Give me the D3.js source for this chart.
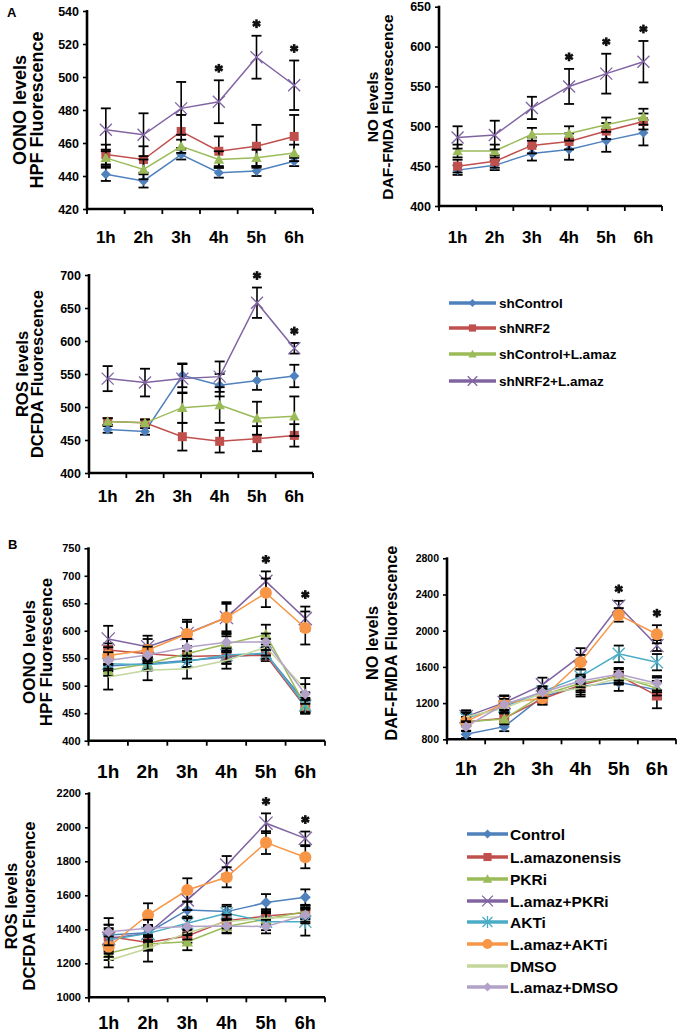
<!DOCTYPE html>
<html><head><meta charset="utf-8">
<script src="https://cdnjs.cloudflare.com/ajax/libs/d3/7.8.5/d3.min.js"></script>
<style>
body{margin:0;background:#fff;}
svg{display:block;font-family:"Liberation Sans",Arial,sans-serif;font-weight:bold;}
</style></head>
<body>
<svg id="chart" width="679" height="1032"></svg>
<script>
// ---------- DATA ----------
const hours = ["1h","2h","3h","4h","5h","6h"];

const namesA = ["shControl","shNRF2","shControl+L.amaz","shNRF2+L.amaz"];
const colorsA = ["#4F81BD","#C0504D","#9BBB59","#8064A2"];
const markersA = ["diamond","square","triangle","x"];

const oonoA = [[441,437,453,442,443,449],[453,450,467,455,458,464],[451,444,458,450,451,454],[468,465,481,485,512,495]];
const oonoAErr = [[4,4,3,3,3,3],[6,8,10,9,13,13],[5,6,4,5,5,5],[13,13,16,13,13,15]];
const noA = [[445,451,466,471,482,492],[450,456,476,481,494,506],[469,469,490,491,502,512],[486,489,523,550,566,581]];
const noAErr = [[6,6,9,13,14,16],[8,8,10,10,10,10],[8,8,8,9,9,10],[14,18,14,22,25,26]];
const rosA = [[466,463,548,533,540,547],[478,476,455,448,452,457],[478,476,499,503,483,486],[543,537,543,546,658,589]];
const rosAErr = [[5,5,18,17,14,17],[5,5,21,17,19,17],[5,5,23,27,25,30],[19,21,22,23,23,8]];

const namesB = ["Control","L.amazonensis","PKRi","L.amaz+PKRi","AKTi","L.amaz+AKTi","DMSO","L.amaz+DMSO"];
const colorsB = ["#4F81BD","#C0504D","#9BBB59","#8064A2","#4BACC6","#F79646","#C3D69B","#B3A2C7"];
const markersB = ["diamond","square","triangle","x","star","circle","none","diamond"];

const oonoB = [[536,540,546,552,558,470],[565,558,553,555,555,461],[528,540,558,576,593,464],[585,571,595,624,690,622],
               [540,538,544,556,559,464],[555,565,594,624,669,605],[516,528,531,546,570,494],[546,556,570,579,580,485]];
const oonoBErr = [[10,10,12,12,12,18],[12,15,10,15,10,12],[10,12,12,14,18,12],[24,20,25,28,18,22],
                  [12,10,10,12,10,14],[15,20,22,25,26,30],[23,18,18,15,15,20],[15,15,15,15,15,18]];
const noB = [[855,940,1272,1383,1430,1346],[995,1032,1246,1401,1504,1283],[995,1025,1290,1419,1493,1364],[1051,1205,1401,1722,2270,1836],
             [1032,1161,1327,1493,1744,1652],[995,1198,1253,1652,2175,1961],[1050,1143,1309,1364,1475,1401],[940,1187,1320,1445,1519,1419]];
const noBErr = [[40,50,60,110,95,100],[50,60,60,80,80,140],[50,60,60,80,80,80],[70,80,80,85,60,60],
                [50,60,60,80,92,90],[50,80,70,80,75,100],[50,50,50,70,70,80],[50,60,60,70,70,80]];
const rosB = [[1367,1380,1514,1504,1557,1588],[1357,1322,1361,1451,1478,1498],[1259,1314,1327,1416,1460,1504],[1347,1376,1573,1778,2024,1935],
              [1337,1376,1435,1494,1445,1445],[1298,1484,1631,1706,1910,1824],[1216,1288,1380,1445,1465,1475],[1386,1406,1416,1420,1416,1484]];
const rosBErr = [[60,40,50,40,50,47],[50,40,40,40,40,40],[40,40,50,40,40,40],[80,50,60,53,58,40],
                 [60,40,40,40,50,82],[60,69,69,59,67,65],[40,78,40,40,40,40],[80,50,50,40,40,40]];

const ticksOonoA = [420,440,460,480,500,520,540];
const ticksNoA = [400,450,500,550,600,650];
const ticksRosA = [400,450,500,550,600,650,700];
const ticksOonoB = [400,450,500,550,600,650,700,750];
const ticksNoB = [800,1200,1600,2000,2400,2800];
const ticksRosB = [1000,1200,1400,1600,1800,2000,2200];

const starsA1 = ["4h","5h","6h"], starsA2 = ["4h","5h","6h"], starsA3 = ["5h","6h"], starsB = ["5h","6h"];

// ---------- DRAWING ----------
const svg = d3.select("#chart");

function drawMarker(g, type, color, s){
  if(type==="diamond"){
    g.append("path").attr("d",`M0,${-s}L${s},0L0,${s}L${-s},0Z`).attr("fill",color);
  } else if(type==="square"){
    g.append("rect").attr("x",-s*0.9).attr("y",-s*0.9).attr("width",s*1.8).attr("height",s*1.8).attr("fill",color);
  } else if(type==="triangle"){
    g.append("path").attr("d",`M0,${-s*1.05}L${s*1.05},${s*0.85}L${-s*1.05},${s*0.85}Z`).attr("fill",color);
  } else if(type==="x"){
    const r=s*1.2;
    g.append("path").attr("d",`M${-r},${-r}L${r},${r}M${-r},${r}L${r},${-r}`).attr("stroke",color).attr("stroke-width",1.3).attr("fill","none");
  } else if(type==="star"){
    const r=s*1.1;
    g.append("path").attr("d",`M${-r},${-r}L${r},${r}M${-r},${r}L${r},${-r}M0,${-r*1.2}L0,${r*1.2}`).attr("stroke",color).attr("stroke-width",1.3).attr("fill","none");
  } else if(type==="circle"){
    g.append("circle").attr("r",s*1.1).attr("fill",color);
  }
}

function drawStar(x,y){
  const g = svg.append("g").attr("transform",`translate(${x},${y})`);
  const r=4.4;
  for(let a=0;a<3;a++){
    const ang = a*Math.PI/3 + Math.PI/2;
    g.append("line").attr("x1",-r*Math.cos(ang)).attr("y1",-r*Math.sin(ang))
      .attr("x2",r*Math.cos(ang)).attr("y2",r*Math.sin(ang))
      .attr("stroke","#111").attr("stroke-width",2.6);
  }
}

function panel(c){
  const x = d3.scaleBand().domain(hours).range([c.x0,c.x1]);
  const y = d3.scaleLinear().domain([c.ticks[0],c.ticks[c.ticks.length-1]]).range([c.yb,c.yt]);
  const g = svg.append("g");
  // y axis
  const yAxis = d3.axisLeft(y).tickValues(c.ticks).tickSize(4).tickPadding(4).tickFormat(d3.format("d"));
  const ya = g.append("g").attr("transform",`translate(${c.x0},0)`).call(yAxis);
  ya.select(".domain").remove();
  ya.selectAll("line").attr("stroke","#000").attr("stroke-width",1.6);
  ya.selectAll("text").attr("font-size",c.tickFont).attr("font-weight","bold").attr("fill","#000").attr("font-family",'"Liberation Sans",Arial,sans-serif');
  // x axis ticks between categories
  const bounds = hours.map(h=>x(h)).concat([c.x1]);
  g.selectAll(".xt").data(bounds).enter().append("line")
    .attr("x1",d=>d).attr("x2",d=>d).attr("y1",c.yb).attr("y2",c.yb+5)
    .attr("stroke","#000").attr("stroke-width",1.8);
  g.append("line").attr("x1",c.x0).attr("x2",c.x1).attr("y1",c.yb).attr("y2",c.yb).attr("stroke","#000").attr("stroke-width",2.6);
  g.append("line").attr("x1",c.x0).attr("x2",c.x0).attr("y1",c.yt-1).attr("y2",c.yb+1.3).attr("stroke","#000").attr("stroke-width",2.6);
  // x labels
  g.selectAll(".xl").data(hours).enter().append("text")
    .attr("x",d=>x(d)+x.bandwidth()/2).attr("y",c.xLabelY).attr("text-anchor","middle")
    .attr("font-size",c.xFont).attr("fill","#000").text(d=>d);
  // y title
  c.titles.forEach((t,i)=>{
    g.append("text").attr("transform",`translate(${c.titleX[i]},${c.titleY}) rotate(-90)`)
      .attr("text-anchor","middle").attr("dominant-baseline","central")
      .attr("font-size",c.titleFont).attr("fill","#000").text(t);
  });
  const cx = h => x(h)+x.bandwidth()/2;
  // series
  c.data.forEach((vals,si)=>{
    const sg = g.append("g");
    vals.forEach((v,i)=>{
      const e = c.err[si][i], xx = cx(hours[i]);
      sg.append("line").attr("x1",xx).attr("x2",xx).attr("y1",y(v-e)).attr("y2",y(v+e)).attr("stroke","#000").attr("stroke-width",1.6);
      [v-e,v+e].forEach(w=>sg.append("line").attr("x1",xx-c.cap).attr("x2",xx+c.cap).attr("y1",y(w)).attr("y2",y(w)).attr("stroke","#000").attr("stroke-width",1.8));
    });
    const line = d3.line().x((d,i)=>cx(hours[i])).y(d=>y(d));
    sg.append("path").attr("d",line(vals)).attr("fill","none").attr("stroke",c.colors[si]).attr("stroke-width",1.5);
    vals.forEach((v,i)=>{
      const mg = sg.append("g").attr("transform",`translate(${cx(hours[i])},${y(v)})`);
      drawMarker(mg,c.markers[si],c.colors[si],c.msize);
    });
  });
  // significance stars
  c.stars.forEach(h=>{
    const i = hours.indexOf(h);
    const top = d3.max(c.data.map((vals,si)=>vals[i]+c.err[si][i]));
    drawStar(cx(h), y(top)-12);
  });
}

function legend(names,colors,markers,lx0,lx1,tx,ys,font,msize){
  names.forEach((n,i)=>{
    const g = svg.append("g");
    g.append("line").attr("x1",lx0).attr("x2",lx1).attr("y1",ys[i]).attr("y2",ys[i]).attr("stroke",colors[i]).attr("stroke-width",3.5);
    const mg = g.append("g").attr("transform",`translate(${(lx0+lx1)/2},${ys[i]})`);
    drawMarker(mg,markers[i],colors[i],msize);
    g.append("text").attr("x",tx).attr("y",ys[i]).attr("dominant-baseline","central").attr("font-size",font).attr("fill","#000").text(n);
  });
}

// Panel labels
svg.append("text").attr("x",7).attr("y",17).attr("font-size",13).text("A");
svg.append("text").attr("x",8).attr("y",549).attr("font-size",13).text("B");

panel({x0:87,x1:313,yt:11,yb:209,ticks:ticksOonoA,data:oonoA,err:oonoAErr,colors:colorsA,markers:markersA,
  tickFont:12.5,xFont:17,xLabelY:243,titles:["OONO levels","HPF Fluorescence"],titleX:[20,37],titleY:110,titleFont:18,
  cap:5,msize:5,stars:starsA1});
panel({x0:439,x1:662,yt:6.7,yb:206,ticks:ticksNoA,data:noA,err:noAErr,colors:colorsA,markers:markersA,
  tickFont:12.5,xFont:17,xLabelY:243,titles:["NO levels","DAF-FMDA Fluorescence"],titleX:[372,387],titleY:107,titleFont:15.5,
  cap:5,msize:5,stars:starsA2});
panel({x0:89,x1:313,yt:275,yb:473,ticks:ticksRosA,data:rosA,err:rosAErr,colors:colorsA,markers:markersA,
  tickFont:12.5,xFont:17,xLabelY:502,titles:["ROS levels","DCFDA Fluorescence"],titleX:[22,37],titleY:374,titleFont:16.5,
  cap:5,msize:5,stars:starsA3});
legend(namesA,colorsA,markersA,449,496,499,[303,328,354,381],13.5,4);

panel({x0:88.5,x1:325,yt:548.3,yb:740.7,ticks:ticksOonoB,data:oonoB,err:oonoBErr,colors:colorsB,markers:markersB,
  tickFont:11,xFont:19,xLabelY:778,titles:["OONO levels","HPF Fluorescence"],titleX:[29,46],titleY:652,titleFont:17,
  cap:5,msize:5.5,stars:starsB});
panel({x0:447,x1:676,yt:558.3,yb:739.3,ticks:ticksNoB,data:noB,err:noBErr,colors:colorsB,markers:markersB,
  tickFont:10.5,xFont:19,xLabelY:775,titles:["NO levels","DAF-FMDA Fluorescence"],titleX:[372,391],titleY:643,titleFont:16.3,
  cap:5,msize:5.5,stars:starsB});
panel({x0:89,x1:325,yt:793.3,yb:997.3,ticks:ticksRosB,data:rosB,err:rosBErr,colors:colorsB,markers:markersB,
  tickFont:11,xFont:18,xLabelY:1029,titles:["ROS levels","DCFDA Fluorescence"],titleX:[11,29],titleY:906,titleFont:16.6,
  cap:5,msize:5.5,stars:starsB});
legend(namesB,colorsB,markersB,467,508,510,[834,857,879,901,922,944,966,987],15.5,4.5);
</script>
</body></html>
